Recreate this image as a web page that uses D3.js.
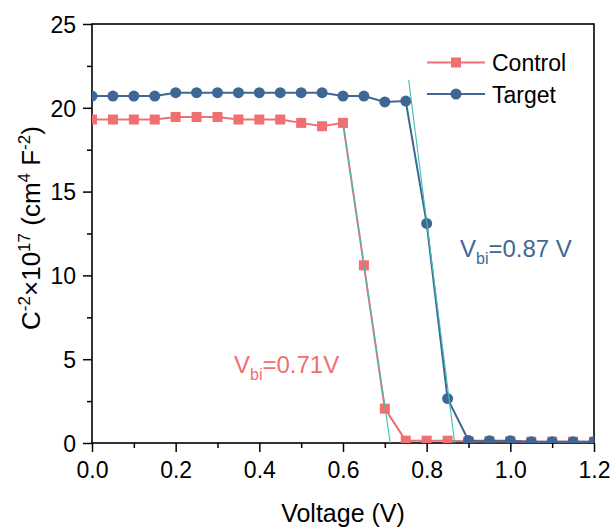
<!DOCTYPE html>
<html><head><meta charset="utf-8">
<script src="https://cdn.jsdelivr.net/npm/d3@7"></script>
<style>body{margin:0;background:#fff}svg{display:block}text{font-family:"Liberation Sans",Arial,sans-serif}</style>
</head><body>
<script>
const voltage = [0,0.05,0.1,0.15,0.2,0.25,0.3,0.35,0.4,0.45,0.5,0.55,0.6,0.65,0.7,0.75,0.8,0.85,0.9,0.95,1.0,1.05,1.1,1.15,1.2];
const control = [19.3,19.3,19.3,19.3,19.45,19.45,19.45,19.3,19.3,19.3,19.1,18.9,19.1,10.6,2.05,0.14,0.14,0.14,0.1,0.1,0.1,0.08,0.08,0.08,0.08];
const target = [20.7,20.7,20.7,20.7,20.9,20.9,20.9,20.9,20.9,20.9,20.9,20.9,20.7,20.7,20.35,20.4,13.1,2.65,0.15,0.14,0.14,0.08,0.08,0.08,0.08];
const controlFit = [[0.6,19.1],[0.713,0]];
const targetFit = [[0.757,21.67],[0.867,0]];
const xTicks = [0,0.2,0.4,0.6,0.8,1.0,1.2];
const yTicks = [0,5,10,15,20,25];
const seriesNames = ["Control","Target"];
const colors = {Control:"#ef6f72", Target:"#3f6796"};
const fitColor = "#3fbfae";

const W=616,H=529, m={l:92,r:22,t:24,b:86};
const svg=d3.select("body").append("svg").attr("width",W).attr("height",H);
const x=d3.scaleLinear().domain([0,1.2]).range([m.l,W-m.r]);
const y=d3.scaleLinear().domain([0,25]).range([H-m.b,m.t]);

svg.append("clipPath").attr("id","clip").append("rect")
  .attr("x",m.l).attr("y",m.t).attr("width",W-m.r-m.l).attr("height",H-m.b-m.t);

const xMinor = d3.range(0.1,1.2,0.2);
const yMinor = d3.range(2.5,25,5);
const gx=svg.append("g").attr("transform",`translate(0,${H-m.b})`)
  .call(d3.axisBottom(x).tickValues(xTicks).tickFormat(d3.format(".1f")).tickSize(9).tickSizeOuter(0));
svg.append("g").attr("transform",`translate(0,${H-m.b})`)
  .call(d3.axisBottom(x).tickValues(xMinor).tickFormat("").tickSize(5).tickSizeOuter(0)).select(".domain").remove();
const gy=svg.append("g").attr("transform",`translate(${m.l},0)`)
  .call(d3.axisLeft(y).tickValues(yTicks).tickFormat(d3.format("d")).tickSize(9).tickSizeOuter(0));
svg.append("g").attr("transform",`translate(${m.l},0)`)
  .call(d3.axisLeft(y).tickValues(yMinor).tickFormat("").tickSize(5).tickSizeOuter(0)).select(".domain").remove();
svg.selectAll(".tick line").attr("stroke","#000").attr("stroke-width",1.5);
svg.selectAll(".domain").remove();
gx.selectAll("text").attr("font-size",23).attr("dy","0.71em").attr("y",19).attr("fill","#000");
gy.selectAll("text").attr("font-size",23).attr("x",-16).attr("dy","0.36em").attr("fill","#000");
svg.selectAll(".tick text").style("font-family","'Liberation Sans',Arial,sans-serif");

svg.append("rect").attr("x",m.l).attr("y",m.t).attr("width",W-m.r-m.l).attr("height",H-m.b-m.t)
  .attr("fill","none").attr("stroke","#000").attr("stroke-width",1.6);

const plot=svg.append("g").attr("clip-path","url(#clip)");
const line=d3.line().x(d=>x(d[0])).y(d=>y(d[1]));
const data={Control:voltage.map((v,i)=>[v,control[i]]), Target:voltage.map((v,i)=>[v,target[i]])};

plot.append("path").datum(data.Control).attr("d",line).attr("fill","none").attr("stroke",colors.Control).attr("stroke-width",2);
plot.selectAll(".sq").data(data.Control).join("rect").attr("class","sq")
  .attr("x",d=>x(d[0])-5).attr("y",d=>y(d[1])-5).attr("width",10).attr("height",10).attr("fill",colors.Control);
plot.append("path").datum(data.Target).attr("d",line).attr("fill","none").attr("stroke",colors.Target).attr("stroke-width",2);
plot.selectAll(".ci").data(data.Target).join("circle").attr("class","ci")
  .attr("cx",d=>x(d[0])).attr("cy",d=>y(d[1])).attr("r",5.5).attr("fill",colors.Target);
[controlFit,targetFit].forEach(f=>{
  plot.append("path").datum(f).attr("d",line).attr("fill","none").attr("stroke",fitColor).attr("stroke-width",1.1);
});

const lg=svg.append("g");
seriesNames.forEach((n,i)=>{
  const ly=62.5+i*31.5;
  lg.append("line").attr("x1",427).attr("x2",485).attr("y1",ly).attr("y2",ly).attr("stroke",colors[n]).attr("stroke-width",2);
  if(n==="Control") lg.append("rect").attr("x",451).attr("y",ly-5).attr("width",10).attr("height",10).attr("fill",colors[n]);
  else lg.append("circle").attr("cx",456).attr("cy",ly).attr("r",5.5).attr("fill",colors[n]);
  lg.append("text").attr("x",492).attr("y",ly+8.5).attr("font-size",23).attr("fill","#000").text(n);
});

function vbi(xp,yp,val,col){
  const t=svg.append("text").attr("x",xp).attr("y",yp).attr("font-size",24).attr("fill",col);
  t.append("tspan").text("V");
  t.append("tspan").attr("font-size",16).attr("dy",7).text("bi");
  t.append("tspan").attr("dy",-7).text(val);
}
vbi(460,257,"=0.87 V",colors.Target);
vbi(234,373,"=0.71V",colors.Control);

svg.append("text").attr("x",(m.l+W-m.r)/2).attr("y",522).attr("text-anchor","middle").attr("font-size",25).attr("fill","#000").text("Voltage (V)");
const yt=svg.append("text").attr("transform",`translate(40,228) rotate(-90)`).attr("text-anchor","middle").attr("font-size",26).attr("fill","#000");
const sup=17, up=10;
yt.append("tspan").text("C");
yt.append("tspan").attr("font-size",sup).attr("dy",-up).text("-2");
yt.append("tspan").attr("dy",up).text("×10");
yt.append("tspan").attr("font-size",sup).attr("dy",-up).text("17");
yt.append("tspan").attr("dy",up).text(" (cm");
yt.append("tspan").attr("font-size",sup).attr("dy",-up).text("4");
yt.append("tspan").attr("dy",up).text(" F");
yt.append("tspan").attr("font-size",sup).attr("dy",-up).text("-2");
yt.append("tspan").attr("dy",up).text(")");
</script>
</body></html>
